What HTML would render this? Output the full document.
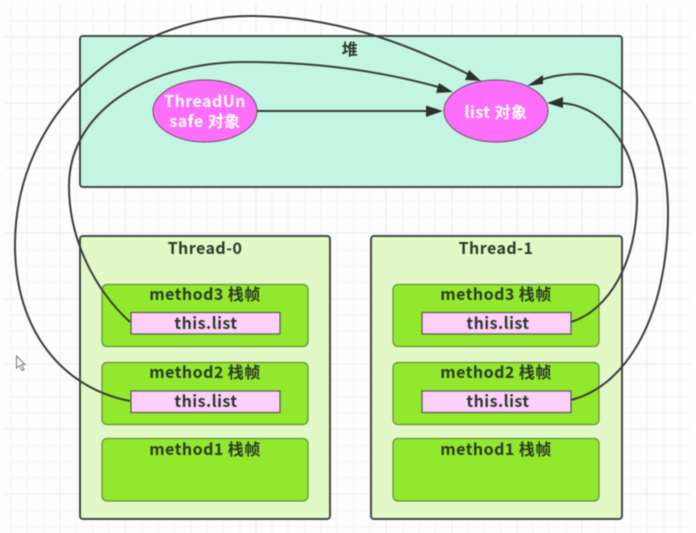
<!DOCTYPE html>
<html><head><meta charset="utf-8"><style>
html,body{margin:0;padding:0;background:#fdfdfd;width:696px;height:533px;overflow:hidden}
svg{display:block;filter:blur(.5px)}
text{font-family:"Noto Sans CJK SC","Liberation Sans",sans-serif;font-weight:700;font-size:16px;letter-spacing:.45px;text-anchor:middle;fill:#2c3a28}
.w{fill:#fff}
.h{fill:#c3f5e2;stroke:#444a46;stroke-width:2}
.t{fill:#e2f8c6;stroke:#444a46;stroke-width:2}
.f{fill:#92e82c;stroke:#62903f;stroke-width:1.2}
.l{fill:#fdd0fd;stroke:#5e5e5e;stroke-width:1.3}
.e{fill:#fd6ffb;stroke:#7c5a7c;stroke-width:1.2}
.c{fill:none;stroke:#3a3d3a;stroke-width:2}
.a{fill:#2e302e}
</style></head><body>
<svg width="696" height="533" viewBox="0 0 696 533" xmlns="http://www.w3.org/2000/svg">
<g stroke="#f6f6f6" stroke-width="1" fill="none">
<path d="M11 4V533M27 4V533M44 4V533M76 4V533M93 4V533M109 4V533M142 4V533M158 4V533M174 4V533M207 4V533M223 4V533M240 4V533M272 4V533M288 4V533M305 4V533M337 4V533M354 4V533M370 4V533M403 4V533M419 4V533M435 4V533M468 4V533M484 4V533M501 4V533M533 4V533M549 4V533M566 4V533M598 4V533M615 4V533M631 4V533M664 4V533M680 4V533"/>
<path d="M5 21H690M5 54H690M5 70H690M5 86H690M5 119H690M5 135H690M5 152H690M5 184H690M5 201H690M5 217H690M5 250H690M5 266H690M5 282H690M5 315H690M5 331H690M5 348H690M5 380H690M5 397H690M5 413H690M5 446H690M5 462H690M5 478H690M5 511H690M5 527H690"/>
</g>
<g stroke="#ececec" stroke-width="1" fill="none">
<path d="M60 4V533M125 4V533M191 4V533M256 4V533M321 4V533M386 4V533M452 4V533M517 4V533M582 4V533M647 4V533"/>
<path d="M5 37H690M5 103H690M5 168H690M5 233H690M5 299H690M5 364H690M5 429H690M5 494H690"/>
</g>

<rect class="h" x="80" y="36" width="542" height="151" rx="3"/>
<rect class="t" x="80" y="236" width="250" height="283" rx="3"/>
<rect class="t" x="371" y="236" width="251" height="283" rx="3"/>

<rect class="f" x="102" y="284.500" width="206" height="62" rx="5"/>
<rect class="f" x="102" y="362.500" width="206" height="62" rx="5"/>
<rect class="f" x="102" y="438.500" width="206" height="62.500" rx="5"/>
<rect class="f" x="393" y="284.500" width="206" height="62" rx="5"/>
<rect class="f" x="393" y="362.500" width="206" height="62" rx="5"/>
<rect class="f" x="393" y="438.500" width="206" height="62.500" rx="5"/>

<rect class="l" x="131" y="312.500" width="149" height="21.500"/>
<rect class="l" x="131" y="391" width="149" height="21.500"/>
<rect class="l" x="422" y="312.500" width="149" height="21.500"/>
<rect class="l" x="422" y="391" width="149" height="21.500"/>

<ellipse class="e" cx="205" cy="111" rx="52" ry="31"/>
<ellipse class="e" cx="496" cy="111" rx="52" ry="31"/>

<path class="c" d="M257 111H432"/>
<path class="c" d="M130 401C62 388 15 330 15 245C15 110 130 16 250 16C330 16 400 40 470 75"/>
<path class="c" d="M130 322C95 290 69 240 69 186C69 110 150 62 245 62C320 62 385 72 442 88"/>
<path class="c" d="M571 400C630 385 668 310 668 213C668 130 630 74 578 74C560 74 548 77 538 81"/>
<path class="c" d="M571 322C610 310 637 260 637 200C637 145 600 103 558 103"/>

<polygon class="a" points="443,111 426,105.500 426,117"/>
<polygon class="a" points="481,81 465,80 469,70"/>
<polygon class="a" points="453,92 436,93 439,83"/>
<polygon class="a" points="527,86 543,75 543,84"/>
<polygon class="a" points="547,103 563,97 563,108"/>

<text x="350" y="55">堆</text>
<text x="205" y="107" class="w">ThreadUn</text>
<text x="205" y="127" class="w">safe 对象</text>
<text x="496" y="118" class="w">list 对象</text>
<text x="205" y="254">Thread-0</text>
<text x="496" y="254">Thread-1</text>

<text x="205" y="300">method3 栈帧</text>
<text x="205" y="378">method2 栈帧</text>
<text x="205" y="455">method1 栈帧</text>
<text x="496" y="300">method3 栈帧</text>
<text x="496" y="378">method2 栈帧</text>
<text x="496" y="455">method1 栈帧</text>

<text x="206" y="329">this.list</text>
<text x="206" y="407">this.list</text>
<text x="498" y="329">this.list</text>
<text x="498" y="407">this.list</text>

<path d="M16.500 356V368L19.500 365.500L22 370.500L24 369.500L21.500 364.500H25Z" fill="#fff" stroke="#777" stroke-width="1"/>
</svg>
</body></html>
